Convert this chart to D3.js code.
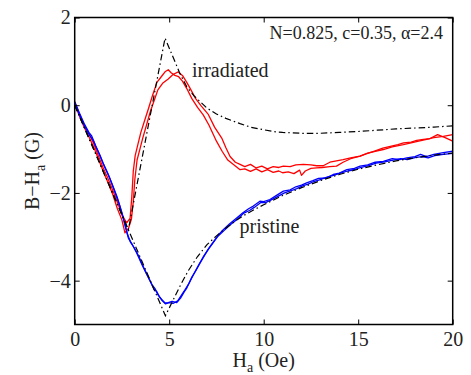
<!DOCTYPE html>
<html>
<head>
<meta charset="utf-8">
<script src="https://cdn.jsdelivr.net/npm/d3@7"></script>
<style>
  body { margin: 0; background: #fff; }
</style>
</head>
<body>
<div id="chart"></div>
<script>
// datos (H_a en Oe, B-H_a en G)
const xTicks = [0, 5, 10, 15, 20];
const yTicks = [-4, -2, 0, 2];

const irradA = [[0,0.08],[0.25,-0.2],[0.5,-0.45],[0.75,-0.64],[1,-0.87],[1.25,-1.15],[1.5,-1.42],[1.75,-1.66],[2,-1.93],[2.25,-2.2],[2.5,-2.5],[2.75,-2.68],[2.93,-2.58],[3.02,-2.1],[3.1,-1.5],[3.2,-1.15],[3.35,-0.88],[3.5,-0.62],[3.7,-0.35],[3.9,-0.08],[4.1,0.2],[4.35,0.52],[4.6,0.66],[4.8,0.77],[4.95,0.81],[5.1,0.74],[5.3,0.68],[5.5,0.65],[5.7,0.55],[5.93,0.38],[6.2,0.15],[6.5,-0.05],[6.8,-0.22],[7.1,-0.45],[7.5,-0.82],[7.8,-1.05],[8.1,-1.25],[8.4,-1.35],[8.75,-1.47],[9.0,-1.45],[9.3,-1.51],[9.6,-1.45],[9.9,-1.52],[10.2,-1.47],[10.5,-1.53],[10.8,-1.5],[11.0,-1.54],[11.3,-1.52],[11.6,-1.56],[11.9,-1.48],[12.0,-1.6],[12.2,-1.5],[12.5,-1.44],[12.8,-1.43],[13.1,-1.42],[13.5,-1.4],[13.85,-1.39],[14.2,-1.3],[14.6,-1.22],[15.1,-1.16],[15.5,-1.1],[15.9,-1.04],[16.3,-0.98],[16.7,-0.94],[17.1,-0.9],[17.4,-0.86],[17.8,-0.84],[18.1,-0.8],[18.45,-0.78],[18.8,-0.76],[19.2,-0.67],[19.6,-0.74],[20,-0.82]];

const irradB = [[0,0.05],[0.25,-0.25],[0.5,-0.5],[0.75,-0.72],[1,-0.95],[1.25,-1.22],[1.5,-1.5],[1.75,-1.75],[2,-2.02],[2.25,-2.35],[2.5,-2.62],[2.66,-2.91],[2.85,-2.8],[3.0,-2.6],[3.1,-2.2],[3.18,-1.7],[3.3,-1.25],[3.45,-1.0],[3.6,-0.75],[3.8,-0.45],[4.0,-0.15],[4.2,0.1],[4.4,0.35],[4.65,0.5],[4.95,0.6],[5.2,0.7],[5.48,0.76],[5.7,0.68],[5.93,0.52],[6.1,0.39],[6.4,0.15],[6.7,-0.02],[7.07,-0.21],[7.4,-0.5],[7.78,-0.75],[8.0,-0.97],[8.22,-1.17],[8.5,-1.3],[8.75,-1.35],[9.0,-1.4],[9.3,-1.35],[9.6,-1.43],[9.9,-1.39],[10.2,-1.45],[10.5,-1.4],[10.8,-1.42],[11.04,-1.39],[11.4,-1.4],[11.7,-1.36],[12.1,-1.35],[12.5,-1.36],[12.8,-1.38],[13.15,-1.38],[13.5,-1.3],[13.85,-1.27],[14.2,-1.24],[14.6,-1.2],[15.1,-1.16],[15.5,-1.09],[15.9,-1.05],[16.33,-1.01],[16.8,-0.95],[17.39,-0.9],[17.8,-0.86],[18.2,-0.82],[18.62,-0.78],[19.0,-0.74],[19.5,-0.71],[20,-0.67]];

const pristA = [[0,0.08],[0.25,-0.18],[0.5,-0.42],[0.75,-0.62],[0.9,-0.7],[1.1,-0.92],[1.34,-1.14],[1.5,-1.32],[1.75,-1.55],[2,-1.82],[2.25,-2.1],[2.5,-2.45],[2.7,-2.8],[2.84,-3.03],[3.05,-3.18],[3.28,-3.37],[3.5,-3.58],[3.75,-3.8],[4.0,-4.02],[4.2,-4.2],[4.34,-4.25],[4.5,-4.38],[4.65,-4.45],[4.78,-4.51],[4.95,-4.5],[5.15,-4.47],[5.4,-4.5],[5.6,-4.4],[5.8,-4.25],[5.93,-4.17],[6.2,-3.92],[6.4,-3.78],[6.63,-3.6],[6.9,-3.4],[7.1,-3.26],[7.33,-3.12],[7.6,-2.96],[7.86,-2.84],[8.2,-2.7],[8.57,-2.57],[8.9,-2.45],[9.2,-2.36],[9.45,-2.3],[9.8,-2.19],[10.0,-2.2],[10.33,-2.15],[10.7,-2.05],[11.04,-1.96],[11.4,-1.93],[11.7,-1.86],[12.0,-1.82],[12.27,-1.77],[12.6,-1.72],[12.9,-1.67],[13.3,-1.66],[13.68,-1.58],[14.0,-1.55],[14.4,-1.47],[14.8,-1.44],[15.1,-1.39],[15.5,-1.36],[15.9,-1.3],[16.33,-1.28],[16.8,-1.22],[17.2,-1.24],[17.57,-1.2],[18.0,-1.17],[18.3,-1.12],[18.6,-1.17],[19.0,-1.12],[19.5,-1.08],[20,-1.05]];

const pristB = [[0,0.05],[0.25,-0.22],[0.5,-0.46],[0.75,-0.66],[1.0,-0.82],[1.2,-1.02],[1.4,-1.22],[1.6,-1.42],[1.85,-1.66],[2.1,-1.95],[2.35,-2.25],[2.6,-2.62],[2.8,-2.95],[2.95,-3.12],[3.15,-3.25],[3.4,-3.45],[3.6,-3.66],[3.85,-3.88],[4.1,-4.1],[4.25,-4.18],[4.4,-4.32],[4.6,-4.44],[4.8,-4.53],[5.0,-4.5],[5.2,-4.52],[5.45,-4.46],[5.65,-4.33],[5.85,-4.2],[6.05,-4.06],[6.3,-3.85],[6.55,-3.65],[6.8,-3.46],[7.05,-3.3],[7.3,-3.15],[7.55,-3.0],[7.9,-2.86],[8.25,-2.72],[8.6,-2.6],[8.95,-2.46],[9.25,-2.4],[9.5,-2.33],[9.85,-2.22],[10.1,-2.22],[10.4,-2.16],[10.75,-2.08],[11.1,-2.0],[11.45,-1.95],[11.75,-1.9],[12.05,-1.84],[12.35,-1.8],[12.65,-1.74],[12.95,-1.7],[13.35,-1.64],[13.7,-1.6],[14.05,-1.55],[14.45,-1.5],[14.85,-1.46],[15.15,-1.42],[15.55,-1.38],[15.95,-1.32],[16.4,-1.29],[16.85,-1.25],[17.25,-1.22],[17.6,-1.24],[18.05,-1.19],[18.4,-1.17],[18.7,-1.2],[19.05,-1.15],[19.5,-1.12],[20,-1.1]];

const modelIrrad = [[0,0],[2.84,-2.84],[4.78,1.53],[5.57,0.72],[5.93,0.42],[6.3,0.22],[6.98,-0.06],[7.5,-0.2],[8,-0.3],[8.75,-0.42],[9.3,-0.5],[10,-0.56],[10.5,-0.6],[11,-0.62],[12,-0.64],[13,-0.64],[14,-0.62],[15,-0.6],[16,-0.57],[17,-0.54],[18,-0.52],[19,-0.5],[20,-0.47]];

const modelPrist = [[0,0],[4.8,-4.8],[5.2,-4.45],[5.6,-4.1],[6,-3.78],[6.5,-3.45],[7,-3.18],[7.5,-2.98],[8,-2.8],[8.5,-2.64],[9,-2.5],[9.5,-2.38],[10,-2.27],[11,-2.06],[12,-1.88],[13,-1.72],[14,-1.58],[15,-1.46],[16,-1.36],[17,-1.27],[18,-1.2],[19,-1.14],[20,-1.09]];

const width = 471, height = 375;
const margin = { top: 17.5, right: 18.3, bottom: 50.5, left: 74.7 };
const w = width - margin.left - margin.right;
const h = height - margin.top - margin.bottom;
const serif = "Liberation Serif";

const svg = d3.select("#chart").append("svg")
    .attr("width", width)
    .attr("height", height);

const g = svg.append("g")
    .attr("transform", `translate(${margin.left},${margin.top})`);

const x = d3.scaleLinear().domain([0, 20]).range([0, w]);
const y = d3.scaleLinear().domain([-5, 2]).range([h, 0]);

const line = d3.line().x(d => x(d[0])).y(d => y(d[1]));

// curvas medidas
[[irradA, "#ff0000"], [irradB, "#ff0000"], [pristA, "#0000ff"], [pristB, "#0000ff"]].forEach(([d, c]) => {
    g.append("path").datum(d)
        .attr("fill", "none")
        .attr("stroke", c)
        .attr("stroke-width", 1.3)
        .attr("stroke-linejoin", "round")
        .attr("d", line);
});

// modelo (punto y raya)
[modelIrrad, modelPrist].forEach(d => {
    g.append("path").datum(d)
        .attr("fill", "none")
        .attr("stroke", "#000")
        .attr("stroke-width", 1.2)
        .attr("stroke-dasharray", "6.5,3,1.5,3")
        .attr("d", line);
});

// ejes con marcas hacia dentro
const fmt = d => d < 0 ? "\u2212" + Math.abs(d) : d;
g.append("g").attr("transform", `translate(0,${h})`)
    .call(d3.axisBottom(x).tickValues(xTicks).tickSizeInner(-5).tickSizeOuter(0).tickPadding(7).tickFormat(fmt));
g.append("g")
    .call(d3.axisLeft(y).tickValues(yTicks).tickSizeInner(-5).tickSizeOuter(0).tickPadding(4).tickFormat(fmt));
g.append("g")
    .call(d3.axisTop(x).tickValues(xTicks).tickSizeInner(-5).tickSizeOuter(0).tickFormat(""));
g.append("g").attr("transform", `translate(${w},0)`)
    .call(d3.axisRight(y).tickValues(yTicks).tickSizeInner(-5).tickSizeOuter(0).tickFormat(""));

g.selectAll(".domain").remove();
g.selectAll(".tick line").attr("stroke", "#000").attr("stroke-width", 1);
g.selectAll(".tick text")
    .attr("font-family", serif)
    .attr("font-size", 20)
    .attr("fill", "#222");

g.append("rect")
    .attr("width", w).attr("height", h)
    .attr("fill", "none")
    .attr("stroke", "#000")
    .attr("stroke-width", 1.5);

// textos
function txt(sel, size) {
    return sel.attr("font-family", serif).attr("font-size", size).attr("fill", "#222");
}

txt(g.append("text"), 18)
    .attr("x", 443 - margin.left).attr("y", 39 - margin.top)
    .attr("text-anchor", "end")
    .text("N=0.825, c=0.35, \u03b1=2.4");

txt(g.append("text"), 20)
    .attr("x", 192 - margin.left).attr("y", 77 - margin.top)
    .text("irradiated");

txt(g.append("text"), 20)
    .attr("x", 239.5 - margin.left).attr("y", 233 - margin.top)
    .text("pristine");

// etiqueta eje x
const xl = txt(svg.append("text"), 20)
    .attr("x", margin.left + w / 2).attr("y", 367)
    .attr("text-anchor", "middle");
xl.append("tspan").text("H");
xl.append("tspan").attr("dy", 5).attr("font-size", 14).text("a");
xl.append("tspan").attr("dy", -5).text(" (Oe)");

// etiqueta eje y
const yl = txt(svg.append("text"), 20)
    .attr("transform", `translate(39,${margin.top + y(-1.5)}) rotate(-90)`)
    .attr("text-anchor", "middle");
yl.append("tspan").text("B\u2212H");
yl.append("tspan").attr("dy", 6).attr("font-size", 14).text("a");
yl.append("tspan").attr("dy", -6).text(" (G)");
</script>
</body>
</html>
